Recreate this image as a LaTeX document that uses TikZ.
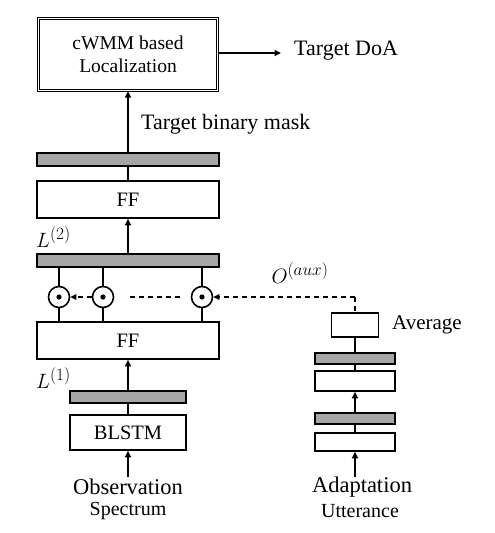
\documentclass[tikz,border=0pt]{standalone}
\usepackage{fontspec}
\setmainfont{Liberation Serif}
\DeclareMathSizes{22}{22}{17}{13}
\usetikzlibrary{arrows.meta}
\begin{document}
\begin{tikzpicture}[x=1pt,y=-1pt,
  lw/.style={line width=1.6pt},
  box/.style={draw,lw,fill=white,inner sep=0pt,font=\fontsize{20.5}{23}\selectfont},
  bar/.style={draw,lw,fill=gray!70,inner sep=0pt},
  lbl/.style={inner sep=0pt,font=\fontsize{22}{25}\selectfont},
  sml/.style={inner sep=0pt,font=\fontsize{20}{23}\selectfont},
  big/.style={inner sep=0pt,font=\fontsize{22.5}{26}\selectfont},
  mth/.style={inner sep=0pt,font=\fontsize{22}{25}\selectfont},
  mul/.style={draw,lw,circle,minimum size=21pt,inner sep=0pt},
  arr/.style={lw,-{Triangle[length=6.5pt,width=6pt]}},
  dsh/.style={lw,dash pattern=on 5pt off 4pt}]
\useasboundingbox (0,0) rectangle (495,533);
% left column
\node[box,double,double distance=1.4pt,line width=1pt,minimum width=179pt,minimum height=72pt,align=center,font=\fontsize{19.5}{22}\selectfont] (loc) at (128,54.5) {cWMM based\\[1pt]Localization};
\coordinate (doaend) at (281,53);
\node[lbl,anchor=west] (doa) at (294,51) {Target DoA};
\node[lbl,anchor=west] (mask) at (141,124) {Target binary mask};
\node[bar,minimum width=182pt,minimum height=13pt] (bar1) at (128,159.5) {};
\node[box,minimum width=182pt,minimum height=37pt] (ff2) at (128,199.5) {FF};
\node[mth,anchor=west] (L2) at (36,237) {$L^{(2)}$};
\node[bar,minimum width=182pt,minimum height=13pt] (bar2) at (128,260.5) {};
\node[mul] (c1) at (59,297) {};
\node[mul] (c2) at (103,297) {};
\node[mul] (c3) at (202,297) {};
\foreach \c in {c1,c2,c3} \fill (\c) circle (2.6pt);
\node[box,minimum width=182pt,minimum height=37pt] (ff1) at (128,340.5) {FF};
\node[mth,anchor=west] (L1) at (36,378) {$L^{(1)}$};
\node[bar,minimum width=116pt,minimum height=12pt] (bar3) at (128,397) {};
\node[box,minimum width=116pt,minimum height=35pt] (blstm) at (128,432.5) {BLSTM};
\coordinate (obsin) at (128,477);
\node[big] (obs) at (128,487) {Observation};
\node[sml] (spec) at (128,511) {Spectrum};
% right column
\node[mth] (aux) at (300,273) {$O^{(aux)}$};
\coordinate (corner) at (355,297);
\coordinate (dA) at (130,297);
\coordinate (dB) at (182,297);
\node[box,minimum width=47pt,minimum height=24pt] (avg) at (355,325) {};
\node[lbl,anchor=west,font=\fontsize{21}{24}\selectfont] (avgt) at (392,325) {Average};
\node[bar,minimum width=80pt,minimum height=11pt] (barR1) at (355,358.5) {};
\node[box,minimum width=80pt,minimum height=20pt] (boxR1) at (355,381) {};
\node[bar,minimum width=80pt,minimum height=11pt] (barR2) at (355,418.5) {};
\node[box,minimum width=80pt,minimum height=18pt] (boxR2) at (355,442) {};
\coordinate (adin) at (355,477);
\node[big] (adapt) at (362,487) {Adaptation};
\node[sml] (utt) at (360,511) {Utterance};
% connectors
\draw[arr] (loc.east |- doaend) -- (doaend);
\draw[arr] (bar1.north) -- (loc.south);
\draw[lw] (bar1.south) -- (ff2.north);
\draw[arr] (bar2.north) -- (ff2.south);
\foreach \c in {c1,c2,c3} {
  \draw[lw] (\c.north |- bar2.south) -- (\c.north);
  \draw[lw] (\c.south) -- (\c.south |- ff1.north);
}
\draw[arr] (bar3.north) -- (ff1.south);
\draw[lw] (blstm.north) -- (bar3.south);
\draw[arr] (obsin) -- (blstm.south);
\draw[dsh,-{Triangle[length=6pt,width=5.5pt]}] (c2.west) -- (c1.east);
\draw[dsh] (dA) -- (dB);
\draw[dsh,-{Triangle[length=6pt,width=5.5pt]}] (corner) -- (c3.east);
\draw[dsh] (corner) -- (avg.north);
\draw[lw] (avg.south) -- (barR1.north);
\draw[lw] (barR1.south) -- (boxR1.north);
\draw[arr] (barR2.north) -- (boxR1.south);
\draw[lw] (barR2.south) -- (boxR2.north);
\draw[arr] (adin) -- (boxR2.south);
\end{tikzpicture}
\end{document}
